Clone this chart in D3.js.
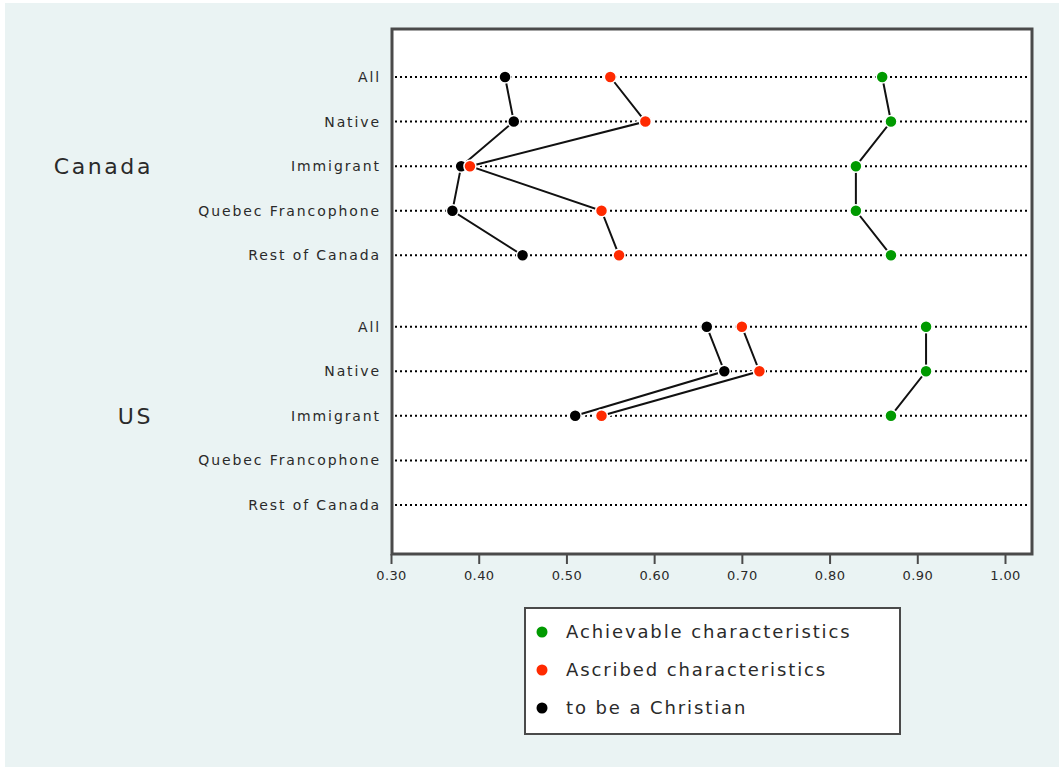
<!DOCTYPE html>
<html>
<head>
<meta charset="utf-8">
<script src="https://cdn.jsdelivr.net/npm/d3@7.9.0/dist/d3.min.js"></script>
<style>
  body { margin: 0; background: #fff; }
  svg text { font-family: "DejaVu Sans", sans-serif; fill: #2a2a2a; }
</style>
</head>
<body>
<div id="chart"></div>
<script>
// groups and rows (same rows for each country)
const groups = ["Canada", "US"];
const rows = ["All", "Native", "Immigrant", "Quebec Francophone", "Rest of Canada"];
const ticks = [0.30, 0.40, 0.50, 0.60, 0.70, 0.80, 0.90, 1.00];

const seriesNames = ["Achievable characteristics", "Ascribed characteristics", "to be a Christian"];
const seriesColors = ["#009a00", "#ff2a00", "#000000"];

// values per group, in row order (null = no data)
const achievable = {
    Canada: [0.86, 0.87, 0.83, 0.83, 0.87],
    US: [0.91, 0.91, 0.87, null, null]
};
const ascribed = {
    Canada: [0.55, 0.59, 0.39, 0.54, 0.56],
    US: [0.70, 0.72, 0.54, null, null]
};
const christian = {
    Canada: [0.43, 0.44, 0.38, 0.37, 0.45],
    US: [0.66, 0.68, 0.51, null, null]
};
const series = [achievable, ascribed, christian];

const width = 1061, height = 767;
const frame = { left: 392, right: 1032, top: 29, bottom: 554 };
const groupGap = 5.6; // row units between first rows of groups

let svg = d3.select("#chart")
    .append("svg")
    .attr("width", width)
    .attr("height", height);

// outer background
svg.append("rect")
    .attr("x", 5).attr("y", 3)
    .attr("width", 1054).attr("height", height - 3)
    .attr("fill", "#eaf3f3");

// plot area
svg.append("rect")
    .attr("x", frame.left).attr("y", frame.top)
    .attr("width", frame.right - frame.left)
    .attr("height", frame.bottom - frame.top)
    .attr("fill", "#fff");

let x = d3.scaleLinear().domain([0.3, 1.0]).range([391, 1005]);
let y = d3.scaleLinear().domain([0, groupGap + rows.length - 1]).range([77, 505]);

const rowPos = (gi, ri) => y(gi * groupGap + ri);

// dotted guide lines + row labels
groups.forEach((g, gi) => {
    rows.forEach((r, ri) => {
        svg.append("line")
            .attr("x1", frame.left + 3).attr("x2", frame.right - 2)
            .attr("y1", rowPos(gi, ri)).attr("y2", rowPos(gi, ri))
            .attr("stroke", "#000")
            .attr("stroke-width", 2)
            .attr("stroke-dasharray", "2,3");

        svg.append("text")
            .attr("x", 381).attr("y", rowPos(gi, ri))
            .attr("dy", "0.36em")
            .attr("text-anchor", "end")
            .attr("font-size", 14)
            .attr("letter-spacing", 1.9)
            .text(r);
    });

    svg.append("text")
        .attr("x", 153).attr("y", rowPos(gi, 2))
        .attr("dy", "0.36em")
        .attr("text-anchor", "end")
        .attr("font-size", 22)
        .attr("letter-spacing", 2.6)
        .text(g);
});

// connecting lines (white halo under black)
let line = d3.line()
    .defined(d => d.v != null)
    .x(d => x(d.v))
    .y(d => d.y);

series.forEach((s) => {
    groups.forEach((g, gi) => {
        let pts = s[g].map((v, ri) => ({ v: v, y: rowPos(gi, ri) }));
        svg.append("path").attr("d", line(pts))
            .attr("fill", "none").attr("stroke", "#fff").attr("stroke-width", 5);
        svg.append("path").attr("d", line(pts))
            .attr("fill", "none").attr("stroke", "#111").attr("stroke-width", 2);
    });
});

// markers: black first, red, then green on top
[2, 1, 0].forEach((si) => {
    groups.forEach((g, gi) => {
        series[si][g].forEach((v, ri) => {
            if (v == null) return;
            svg.append("circle")
                .attr("cx", x(v)).attr("cy", rowPos(gi, ri))
                .attr("r", 6)
                .attr("fill", seriesColors[si])
                .attr("stroke", "#fff")
                .attr("stroke-width", 1.5);
        });
    });
});

// frame
svg.append("rect")
    .attr("x", frame.left).attr("y", frame.top)
    .attr("width", frame.right - frame.left)
    .attr("height", frame.bottom - frame.top)
    .attr("fill", "none")
    .attr("stroke", "#4a4a4a")
    .attr("stroke-width", 3);

// x axis
let xAxis = d3.axisBottom(x)
    .tickValues(ticks)
    .tickFormat(d3.format(".2f"))
    .tickSize(10)
    .tickSizeOuter(0);

let gx = svg.append("g")
    .attr("transform", `translate(0,${frame.bottom})`)
    .call(xAxis);
gx.select(".domain").remove();
gx.selectAll(".tick line").attr("stroke", "#4a4a4a").attr("stroke-width", 2);
gx.selectAll(".tick text")
    .attr("font-family", "DejaVu Sans, sans-serif")
    .attr("font-size", 13)
    .attr("letter-spacing", 0.4)
    .attr("fill", "#333")
    .attr("y", 17);

// legend
let legend = svg.append("g");
legend.append("rect")
    .attr("x", 525).attr("y", 608)
    .attr("width", 375).attr("height", 126)
    .attr("fill", "#fff")
    .attr("stroke", "#4a4a4a")
    .attr("stroke-width", 2);

seriesNames.forEach((name, i) => {
    let ly = 632 + i * 38;
    legend.append("circle")
        .attr("cx", 542).attr("cy", ly)
        .attr("r", 5.5)
        .attr("fill", seriesColors[i]);
    legend.append("text")
        .attr("x", 566).attr("y", ly)
        .attr("dy", "0.36em")
        .attr("font-size", 18)
        .attr("letter-spacing", 1.9)
        .text(name);
});
</script>
</body>
</html>
